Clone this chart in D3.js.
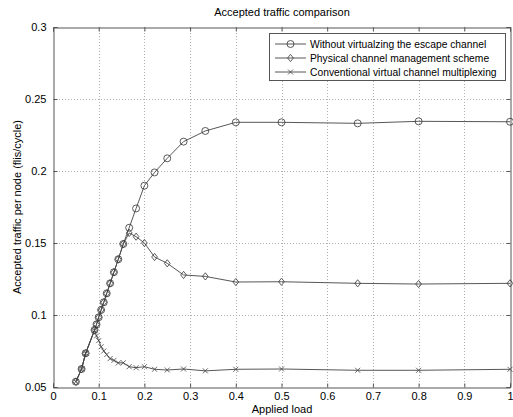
<!DOCTYPE html>
<html lang="en">
<head>
<meta charset="UTF-8">
<script src="https://d3js.org/d3.v7.min.js"></script>
<title>Accepted traffic comparison</title>
<style>
  body { margin: 0; background: #fff; }
  text { font-family: "Liberation Sans", Arial, sans-serif; font-size: 11px; fill: #000; }
</style>
</head>
<body>
<script>
    // applied load (1/k)
    var loads = [0.05, 0.0625, 0.0714, 0.0909, 0.0952, 0.1, 0.1053, 0.1111, 0.1176, 0.125, 0.1333,
                 0.1429, 0.1538, 0.1667, 0.1818, 0.2, 0.2222, 0.25, 0.2857, 0.3333, 0.4, 0.5, 0.6667, 0.8, 1.0];

    var withoutVirt = [0.0537, 0.0625, 0.0734, 0.0896, 0.0935, 0.0984, 0.1035, 0.1088, 0.115, 0.122, 0.1297,
                       0.1387, 0.1493, 0.1606, 0.174, 0.1898, 0.199, 0.2088, 0.2204, 0.2278, 0.2338, 0.2338, 0.2331, 0.2345, 0.2342];

    var physical = [0.0537, 0.0625, 0.0734, 0.0896, 0.0935, 0.0984, 0.1035, 0.1088, 0.115, 0.122, 0.1297,
                    0.1387, 0.1493, 0.157, 0.1544, 0.1500, 0.1403, 0.1359, 0.1278, 0.1268, 0.1229, 0.1231, 0.122, 0.1215, 0.122];

    var conventional = [0.0537, 0.0625, 0.0734, 0.0893, 0.0855, 0.0822, 0.078, 0.075, 0.0725, 0.0697, 0.0685,
                        0.0667, 0.0668, 0.0641, 0.0634, 0.0641, 0.0623, 0.0618, 0.0625, 0.0612, 0.0623, 0.0625, 0.0616, 0.0616, 0.0623];

    var xTicks = [0, 0.1, 0.2, 0.3, 0.4, 0.5, 0.6, 0.7, 0.8, 0.9, 1];
    var yTicks = [0.05, 0.1, 0.15, 0.2, 0.25, 0.3];

    var seriesNames = ["Without virtualzing the escape channel",
                       "Physical channel management scheme",
                       "Conventional virtual channel multiplexing"];
    var markers = ["circle", "diamond", "cross"];

    var width = 513, height = 417;
    var mLeft = 53, mRight = 510, mTop = 27, mBottom = 387;

    var svg = d3.select("body").append("svg")
        .attr("width", width).attr("height", height);

    var x = d3.scaleLinear().domain([0, 1]).range([mLeft, mRight]);
    var y = d3.scaleLinear().domain([0.05, 0.3]).range([mBottom, mTop]);

    // grid
    svg.append("g").selectAll("line").data(xTicks.slice(1, -1)).enter().append("line")
        .attr("x1", function (d) { return Math.round(x(d)) + 0.5; })
        .attr("x2", function (d) { return Math.round(x(d)) + 0.5; })
        .attr("y1", mTop).attr("y2", mBottom)
        .attr("stroke", "#b0b0b0").attr("stroke-width", 1).attr("stroke-dasharray", "1,2");
    svg.append("g").selectAll("line").data(yTicks.slice(1, -1)).enter().append("line")
        .attr("y1", function (d) { return Math.round(y(d)) + 0.5; })
        .attr("y2", function (d) { return Math.round(y(d)) + 0.5; })
        .attr("x1", mLeft).attr("x2", mRight)
        .attr("stroke", "#b0b0b0").attr("stroke-width", 1).attr("stroke-dasharray", "1,2");

    // axes (ticks inside, box)
    var fmt = function (d) { return d3.format("~g")(d); };
    var xAxis = d3.axisBottom(x).tickValues(xTicks).tickSize(-4).tickPadding(5).tickFormat(fmt);
    var xTop = d3.axisTop(x).tickValues(xTicks).tickSize(-4).tickFormat("");
    var yAxis = d3.axisLeft(y).tickValues(yTicks).tickSize(-4).tickPadding(7).tickFormat(fmt);
    var yRight = d3.axisRight(y).tickValues(yTicks).tickSize(-4).tickFormat("");

    function style(g) {
        g.select(".domain").attr("stroke", "#555");
        g.selectAll(".tick line").attr("stroke", "#555");
        g.selectAll("text").style("font-size", "11px")
            .style("font-family", "'Liberation Sans', Arial, sans-serif").attr("fill", "#000");
    }
    svg.append("g").attr("transform", "translate(0," + (mBottom + 0.5) + ")").call(xAxis).call(style);
    svg.append("g").attr("transform", "translate(0," + (mTop + 0.5) + ")").call(xTop).call(style);
    svg.append("g").attr("transform", "translate(" + (mLeft + 0.5) + ",0)").call(yAxis).call(style);
    svg.append("g").attr("transform", "translate(" + (mRight + 0.5) + ",0)").call(yRight).call(style);

    // labels
    svg.append("text").attr("x", 282).attr("y", 16).attr("text-anchor", "middle")
        .text("Accepted traffic comparison");
    svg.append("text").attr("x", 282).attr("y", 413).attr("text-anchor", "middle")
        .text("Applied load");
    svg.append("text").attr("transform", "translate(21," + ((mTop + mBottom) / 2) + ") rotate(-90)")
        .attr("text-anchor", "middle")
        .text("Accepted traffic per node (flis/cycle)");

    var all = [withoutVirt, physical, conventional];
    var line = d3.line()
        .x(function (d, i) { return x(loads[i]); })
        .y(function (d) { return y(d); });

    function drawMarker(g, type, cx, cy) {
        if (type === "circle") {
            g.append("circle").attr("cx", cx).attr("cy", cy).attr("r", 3.5)
                .attr("fill", "none").attr("stroke", "#333").attr("stroke-width", 0.8);
        } else if (type === "diamond") {
            var s = 3.6;
            g.append("path")
                .attr("d", "M" + cx + "," + (cy - s) + "L" + (cx + s * 0.8) + "," + cy +
                    "L" + cx + "," + (cy + s) + "L" + (cx - s * 0.8) + "," + cy + "Z")
                .attr("fill", "none").attr("stroke", "#333").attr("stroke-width", 0.8);
        } else {
            var c = 2.5;
            g.append("path")
                .attr("d", "M" + (cx - c) + "," + (cy - c) + "L" + (cx + c) + "," + (cy + c) +
                    "M" + (cx - c) + "," + (cy + c) + "L" + (cx + c) + "," + (cy - c))
                .attr("fill", "none").attr("stroke", "#444").attr("stroke-width", 0.8);
        }
    }

    var plot = svg.append("g");
    all.forEach(function (vals, si) {
        plot.append("path").datum(vals).attr("d", line)
            .attr("fill", "none").attr("stroke", "#444").attr("stroke-width", 0.9);
        vals.forEach(function (v, i) {
            drawMarker(plot, markers[si], x(loads[i]), y(v));
        });
    });

    // legend
    var lg = svg.append("g");
    lg.append("rect").attr("x", 269.5).attr("y", 33.5).attr("width", 236).attr("height", 47)
        .attr("fill", "#fff").attr("stroke", "#555").attr("stroke-width", 1);
    seriesNames.forEach(function (name, i) {
        var ry = 44 + i * 14;
        lg.append("line").attr("x1", 275).attr("x2", 306).attr("y1", ry).attr("y2", ry)
            .attr("stroke", "#444").attr("stroke-width", 0.9);
        drawMarker(lg, markers[i], 290.5, ry);
        lg.append("text").attr("x", 310).attr("y", ry + 4).style("font-size", "10.3px").text(name);
    });
</script>
</body>
</html>
